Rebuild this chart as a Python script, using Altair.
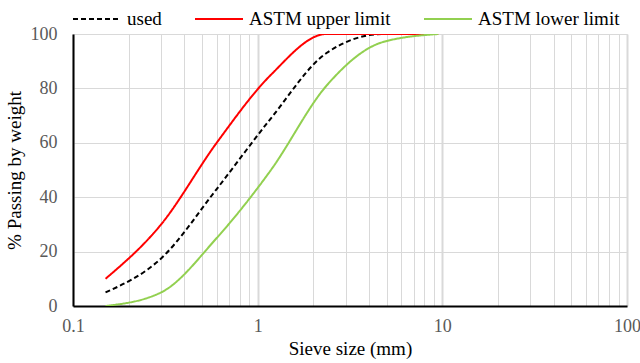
import altair as alt
import pandas as pd

# Sieve sizes (mm) and percent passing for each gradation curve
sieve_mm = [0.15, 0.3, 0.6, 1.18, 2.36, 4.75, 9.5]
used = [5, 17.5, 43, 69, 93, 100, 100]
astm_upper = [10, 30, 60, 85, 100, 100, 100]
astm_lower = [0, 5, 25, 50, 81, 97, 100]

series_names = ["used", "ASTM upper limit", "ASTM lower limit"]
series_colors = ["#000000", "#ff0000", "#92d050"]
series_dash = [[5, 3], [1, 0], [1, 0]]

x_ticks = [0.1, 0.2, 0.3, 0.4, 0.5, 0.6, 0.7, 0.8, 0.9,
           1, 2, 3, 4, 5, 6, 7, 8, 9,
           10, 20, 30, 40, 50, 60, 70, 80, 90, 100]
y_ticks = [0, 20, 40, 60, 80, 100]

rows = []
for name, vals in zip(series_names, [used, astm_upper, astm_lower]):
    for i, (s, v) in enumerate(zip(sieve_mm, vals)):
        rows.append({"series": name, "sieve": s, "passing": v, "order": i})
df = pd.DataFrame(rows)

FONT = "Liberation Serif"
decade_test = "datum.value == 0.1 || datum.value == 1 || datum.value == 10 || datum.value == 100"

x_axis = alt.Axis(
    values=x_ticks,
    labelExpr="datum.value == 0.1 ? '0.1' : datum.value == 1 ? '1' : datum.value == 10 ? '10' : datum.value == 100 ? '100' : ''",
    labelOverlap=False,
    labelFlush=False,
    ticks=False,
    grid=True,
    gridColor="#d9d9d9",
    gridWidth={"condition": {"test": decade_test, "value": 2}, "value": 1},
    domainColor="#000000",
    domainWidth=2,
    labelFont=FONT,
    labelFontSize=18,
    labelColor="#595959",
    labelPadding=11,
    title="Sieve size (mm)",
    titleFont=FONT,
    titleFontSize=19,
    titleFontWeight="normal",
    titleColor="#000000",
    titlePadding=4,
)

y_axis = alt.Axis(
    values=y_ticks,
    ticks=False,
    grid=True,
    gridColor="#d9d9d9",
    gridWidth=1,
    domainColor="#000000",
    domainWidth=2,
    labelFont=FONT,
    labelFontSize=18,
    labelColor="#595959",
    labelPadding=16,
    title="% Passing by weight",
    titleFont=FONT,
    titleFontSize=19,
    titleFontWeight="normal",
    titleColor="#000000",
    titlePadding=6,
)

legend = alt.Legend(
    title=None,
    orient="none",
    legendX=-1,
    legendY=-40,
    direction="horizontal",
    symbolType="stroke",
    symbolSize=2304,
    symbolStrokeWidth=2,
    labelFont=FONT,
    labelFontSize=19,
    labelColor="#000000",
    labelOffset=5,
    columnPadding=29,
)

chart = alt.Chart(df).mark_line(
    interpolate="monotone", strokeWidth=2, clip=True
).encode(
    x=alt.X("sieve:Q", scale=alt.Scale(type="log", domain=[0.1, 100], nice=False), axis=x_axis),
    y=alt.Y("passing:Q", scale=alt.Scale(domain=[0, 100], nice=False), axis=y_axis),
    color=alt.Color("series:N", scale=alt.Scale(domain=series_names, range=series_colors), legend=legend),
    strokeDash=alt.StrokeDash("series:N", scale=alt.Scale(domain=series_names, range=series_dash), legend=legend),
    order="order:Q",
).properties(
    width=554,
    height=272,
    autosize=alt.AutoSizeParams(type="none"),
    padding={"left": 73, "top": 34, "right": 13, "bottom": 57},
).configure_view(stroke=None).configure(background="#ffffff")

chart.save("out.html", embed_options={"renderer": "svg", "actions": False})
